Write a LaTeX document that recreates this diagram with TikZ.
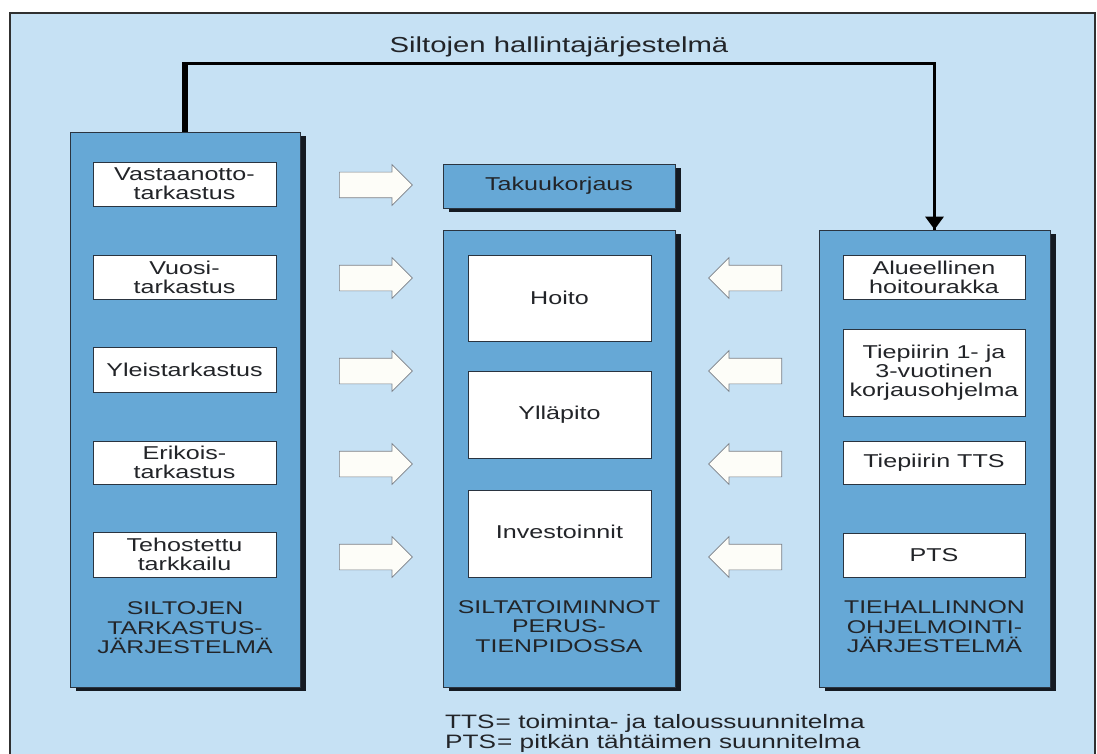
\documentclass[tikz,border=0pt]{standalone}
\usepackage{fontspec}
\setmainfont{Liberation Sans}[FakeStretch=1.35]
\usetikzlibrary{arrows.meta,shapes.arrows,shadows,calc}
\definecolor{bgblue}{HTML}{C6E1F4}
\definecolor{midblue}{HTML}{66A8D6}
\definecolor{edgec}{HTML}{2A3440}
\definecolor{shadowc}{HTML}{141A22}
\definecolor{txt}{HTML}{222428}
\definecolor{arrowedge}{HTML}{7A7F86}
\definecolor{arrowfill}{HTML}{FDFDF8}
\definecolor{framec}{HTML}{303030}
\newcommand\bodyfs{\fontsize{18.6}{18.8}\selectfont}
\newcommand\titlefs{\fontsize{21.7}{24}\selectfont}
\newcommand\labfs{\fontsize{18.4}{19.6}\selectfont}
\newcommand\notefs{\fontsize{19.4}{19.6}\selectfont}
\begin{document}
\begin{tikzpicture}[x=1pt,y=-1pt,
  colbox/.style={draw=edgec, line width=0.8pt, fill=midblue, inner sep=0pt,
    drop shadow={shadow xshift=6pt, shadow yshift=-4pt, opacity=1, fill=shadowc}},
  wbox/.style={draw=edgec, line width=0.9pt, fill=white, inner sep=0pt,
    align=center, font=\bodyfs, text=txt},
  lab/.style={align=center, font=\labfs, text=txt, inner sep=0pt},
  rarrow/.style={single arrow, draw=arrowedge, fill=arrowfill, line width=0.7pt,
    minimum height=73pt, minimum width=40pt, single arrow head extend=7.5pt,
    single arrow tip angle=90, inner xsep=0pt, inner ysep=12.5pt, anchor=tail},
  larrow/.style={rarrow, shape border rotate=180},
  conn/.style={draw=black, line width=3.2pt}]
\useasboundingbox (0,0) rectangle (1097,754);
% frame
\fill[white] (0,0) rectangle (1097,754);
\fill[bgblue] (10,13) rectangle (1095,754);
\draw[framec, line width=2.6pt] (10,754) -- (10,13) -- (1095,13) -- (1095,754);
% title
\node[font=\titlefs, text=txt, anchor=base, inner sep=0pt] (title) at (559,53) {Siltojen hallintajärjestelmä};
% columns
\node[colbox, minimum width=230pt, minimum height=555pt] (L) at (185,409.5) {};
\node[colbox, minimum width=232pt, minimum height=44pt, font=\bodyfs, text=txt] (T) at (559,186) {Takuukorjaus};
\node[colbox, minimum width=232pt, minimum height=457pt] (M) at (559,458.5) {};
\node[colbox, minimum width=231pt, minimum height=457pt] (R) at (934.5,458.5) {};
% connector
\draw[conn] (L.north) -- ++(0,-68) coordinate (c1) -| (R.north);
\draw[line width=5.5pt] (L.north) -- ($(c1)+(0,-1.6)$);
\draw[line width=3.2pt, -{Triangle[length=13pt,width=18pt]}] ($(R.north)+(0,-30)$) -- (R.north);
% left white boxes
\node[wbox, minimum width=183pt, minimum height=44pt] (l1) at (184.5,184) {Vastaanotto-\\tarkastus};
\node[wbox, minimum width=183pt, minimum height=44pt] (l2) at (184.5,277) {Vuosi-\\tarkastus};
\node[wbox, minimum width=183pt, minimum height=45pt] (l3) at (184.5,369.5) {Yleistarkastus};
\node[wbox, minimum width=183pt, minimum height=43pt] (l4) at (184.5,462.5) {Erikois-\\tarkastus};
\node[wbox, minimum width=183pt, minimum height=45pt] (l5) at (184.5,554.5) {Tehostettu\\tarkkailu};
\node[lab] (Llab) at (185,628) {SILTOJEN\\TARKASTUS-\\JÄRJESTELMÄ};
% middle white boxes
\node[wbox, minimum width=183pt, minimum height=86pt] (m1) at (559.5,298) {Hoito};
\node[wbox, minimum width=183pt, minimum height=87pt] (m2) at (559.5,414.5) {Ylläpito};
\node[wbox, minimum width=183pt, minimum height=87pt] (m3) at (559.5,533.5) {};
\node[font=\bodyfs, text=txt, inner sep=0pt] (m3t) at (559.5,532) {Investoinnit};
\node[lab] (Mlab) at (559,626.5) {SILTATOIMINNOT\\PERUS-\\TIENPIDOSSA};
% right white boxes
\node[wbox, minimum width=182pt, minimum height=44pt] (r1) at (934,277) {Alueellinen\\hoitourakka};
\node[wbox, minimum width=182pt, minimum height=87pt] (r2) at (934,372.5) {Tiepiirin 1- ja\\3-vuotinen\\korjausohjelma};
\node[wbox, minimum width=182pt, minimum height=43pt] (r3) at (934,462.5) {Tiepiirin TTS};
\node[wbox, minimum width=182pt, minimum height=44pt] (r4) at (934,555) {PTS};
\node[lab] (Rlab) at (934.5,627) {TIEHALLINNON\\OHJELMOINTI-\\JÄRJESTELMÄ};
% block arrows left -> middle
\node[rarrow] (a1) at (339,185) {};
\node[rarrow] (a2) at (339,278) {};
\node[rarrow] (a3) at (339,371) {};
\node[rarrow] (a4) at (339,464) {};
\node[rarrow] (a5) at (339,557) {};
% block arrows right -> middle
\node[larrow] (b1) at (782,278) {};
\node[larrow] (b2) at (782,371) {};
\node[larrow] (b3) at (782,464) {};
\node[larrow] (b4) at (782,557) {};
% footnote
\node[font=\notefs, text=txt, align=left, anchor=base west, inner sep=0pt] (note) at (445,748)
  {TTS\kern1pt= toiminta- ja taloussuunnitelma\\PTS\kern1pt= pitkän tähtäimen suunnitelma};
\end{tikzpicture}
\end{document}
